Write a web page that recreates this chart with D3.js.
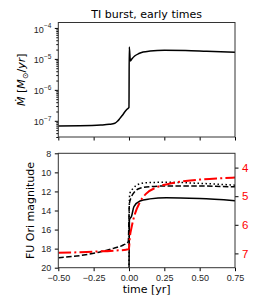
<!DOCTYPE html>
<html>
<head>
<meta charset="utf-8">
<script src="https://cdn.jsdelivr.net/npm/d3@7"></script>
<style>
body { margin: 0; background: #fff; }
svg { display: block; font-family: "DejaVu Sans", sans-serif; }
</style>
</head>
<body>
<div id="canvas"><svg width="258" height="307"></svg></div>
<script>
// accretion rate (Msun/yr) vs time
var rateTime = [-0.5, -0.35, -0.2, -0.14, -0.1, -0.08, -0.064, -0.045, -0.029, -0.012, 0.0, 0.002, 0.01, 0.02, 0.04, 0.07, 0.1, 0.15, 0.25, 0.4, 0.55, 0.75];
var rateVals = [6.8e-8, 6.9e-8, 7.3e-8, 7.7e-8, 8.3e-8, 9.8e-8, 1.2e-7, 1.54e-7, 1.97e-7, 2.4e-7, 2.73e-7, 2.42e-5, 8.6e-6, 9.9e-6, 1.24e-5, 1.49e-5, 1.67e-5, 1.8e-5, 1.9e-5, 1.87e-5, 1.76e-5, 1.63e-5];

// magnitudes, left axis
var dashTime = [-0.5, -0.32, -0.2, -0.11, -0.04, -0.005, 0.003, 0.018, 0.04, 0.078, 0.148, 0.265, 0.5, 0.73, 0.75];
var dashMag  = [18.95, 18.67, 18.33, 17.97, 17.62, 17.28, 13.25, 12.55, 12.03, 11.67, 11.5, 11.43, 11.43, 11.5, 11.5];
var dotTime = [0.0, 0.003, 0.006, 0.03, 0.066, 0.125, 0.27, 0.5, 0.75];
var dotMag  = [21, 12.9, 12.2, 11.67, 11.25, 11.08, 11.04, 11.15, 11.34];
var solidTime = [0.0, 0.003, 0.018, 0.035, 0.078, 0.148, 0.265, 0.5, 0.75];
var solidMag  = [21, 15.0, 14.6, 13.6, 13.0, 12.78, 12.65, 12.75, 12.97];

// right axis (red)
var redTime = [-0.5, -0.3, -0.1, -0.02, 0.0, 0.005, 0.018, 0.04, 0.078, 0.12, 0.2, 0.3, 0.4, 0.5, 0.62, 0.75];
var redVals = [6.98, 6.95, 6.9, 6.87, 6.85, 6.5, 6.1, 5.65, 5.2, 4.92, 4.68, 4.55, 4.47, 4.42, 4.38, 4.35];

var xTicks = [-0.5, -0.25, 0, 0.25, 0.5, 0.75];
var rateTicks = [1e-7, 1e-6, 1e-5, 1e-4];
var magTicks = [8, 10, 12, 14, 16, 18, 20];
var redTicks = [4, 5, 6, 7];

var svg = d3.select("#canvas svg");
var left = 58.3, right = 235;
var top1 = 22.5, bot1 = 137, top2 = 153.3, bot2 = 267.7;

var x = d3.scaleLinear().domain([-0.5, 0.75]).range([left, right]);
var yRate = d3.scaleLog().domain([3e-8, 1.5e-4]).range([bot1, top1]);
var yMag = d3.scaleLinear().domain([8, 20]).range([top2, bot2]);
var yRed = d3.scaleLinear().domain([3.5, 7.5]).range([top2, bot2]);

var defs = svg.append("defs");
defs.append("clipPath").attr("id", "clip1").append("rect")
    .attr("x", left).attr("y", top1).attr("width", right - left).attr("height", bot1 - top1);
defs.append("clipPath").attr("id", "clip2").append("rect")
    .attr("x", left).attr("y", top2).attr("width", right - left).attr("height", bot2 - top2);

function styleAxis(g) {
    g.select(".domain").remove();
    g.selectAll(".tick line").attr("stroke", "#000").attr("stroke-width", 1);
    g.selectAll(".tick text").attr("fill", "#262626").attr("font-size", 9);
}

// minor log ticks
var minor = [];
for (var k = -8; k <= -4; k++) {
    for (var m = 2; m <= 9; m++) {
        var v = m * Math.pow(10, k);
        if (v >= 3e-8 && v <= 1.5e-4) minor.push(v);
    }
}

// ---- top panel ----
svg.append("g")
    .attr("transform", "translate(" + left + ",0)")
    .call(d3.axisLeft(yRate).tickValues(minor).tickSize(2).tickFormat(""))
    .call(styleAxis);

var yAx = svg.append("g")
    .attr("transform", "translate(" + left + ",0)")
    .call(d3.axisLeft(yRate).tickValues(rateTicks).tickSize(3.5).tickPadding(3.5).tickFormat(""))
    .call(styleAxis);
yAx.selectAll(".tick text").each(function (d) {
    var t = d3.select(this).attr("font-size", 9).attr("dy", "0.45em");
    t.append("tspan").text("10");
    t.append("tspan").attr("font-size", 6.5).attr("dy", "-0.75em").text("\u2212" + Math.round(-Math.log10(d)));
});

svg.append("g")
    .attr("transform", "translate(0," + bot1 + ")")
    .call(d3.axisBottom(x).tickValues(xTicks).tickSize(3.5).tickFormat(""))
    .call(styleAxis);

svg.append("path")
    .datum(rateTime.map(function (t, i) { return [t, rateVals[i]]; }))
    .attr("clip-path", "url(#clip1)")
    .attr("fill", "none")
    .attr("stroke", "#000")
    .attr("stroke-width", 1.5)
    .attr("d", d3.line()
        .x(function (d) { return x(d[0]); })
        .y(function (d) { return yRate(d[1]); })
        .curve(d3.curveMonotoneX));

svg.append("rect")
    .attr("x", left).attr("y", top1).attr("width", right - left).attr("height", bot1 - top1)
    .attr("fill", "none").attr("stroke", "#333").attr("stroke-width", 1);

svg.append("text")
    .attr("x", (left + right) / 2).attr("y", 17.5)
    .attr("text-anchor", "middle").attr("font-size", 11).attr("fill", "#000")
    .text("TI burst, early times");

var yl = svg.append("text")
    .attr("transform", "translate(25," + (top1 + bot1) / 2 + ") rotate(-90)")
    .attr("text-anchor", "middle").attr("font-size", 11).attr("fill", "#000");
yl.append("tspan").attr("font-style", "italic").text("\u1E40");
yl.append("tspan").text(" [");
yl.append("tspan").attr("font-style", "italic").text("M");
yl.append("tspan").attr("font-size", 8).attr("dy", 2.5).text("\u2299");
yl.append("tspan").attr("dy", -2.5).text("/");
yl.append("tspan").attr("font-style", "italic").text("yr");
yl.append("tspan").text("]");

// ---- bottom panel ----
svg.append("g")
    .attr("transform", "translate(" + left + ",0)")
    .call(d3.axisLeft(yMag).tickValues(magTicks).tickSize(3.5).tickPadding(3.5))
    .call(styleAxis);

var rAx = svg.append("g")
    .attr("transform", "translate(" + right + ",0)")
    .call(d3.axisRight(yRed).tickValues(redTicks).tickSize(3.5).tickPadding(3.5).tickFormat(d3.format("d")))
    .call(styleAxis);
rAx.selectAll(".tick text").attr("fill", "#ff0000").attr("font-size", 11.5);

svg.append("g")
    .attr("transform", "translate(0," + bot2 + ")")
    .call(d3.axisBottom(x).tickValues(xTicks).tickSize(3.5).tickPadding(3.5).tickFormat(d3.format(".2f")))
    .call(styleAxis);

var magLine = d3.line()
    .x(function (d) { return x(d[0]); })
    .y(function (d) { return yMag(d[1]); })
    .curve(d3.curveMonotoneX);
var redLine = d3.line()
    .x(function (d) { return x(d[0]); })
    .y(function (d) { return yRed(d[1]); })
    .curve(d3.curveMonotoneX);

function zip(a, b) { return a.map(function (t, i) { return [t, b[i]]; }); }

var series = [
    {pts: zip(solidTime, solidMag), dash: null},
    {pts: zip(dashTime, dashMag), dash: "5.5,2.4"},
    {pts: zip(dotTime, dotMag), dash: "1.5,2.5"}
];
svg.append("g").attr("clip-path", "url(#clip2)")
    .selectAll(".mag")
    .data(series)
    .enter()
    .append("path")
    .attr("class", "mag")
    .attr("fill", "none")
    .attr("stroke", "#000")
    .attr("stroke-width", 1.5)
    .attr("stroke-dasharray", function (d) { return d.dash; })
    .attr("d", function (d) { return magLine(d.pts); });

svg.append("path")
    .datum(zip(redTime, redVals))
    .attr("clip-path", "url(#clip2)")
    .attr("fill", "none")
    .attr("stroke", "#ff0000")
    .attr("stroke-width", 2)
    .attr("stroke-dasharray", "12.8,3.2,2,3.2")
    .attr("d", redLine);

svg.append("rect")
    .attr("x", left).attr("y", top2).attr("width", right - left).attr("height", bot2 - top2)
    .attr("fill", "none").attr("stroke", "#333").attr("stroke-width", 1);

svg.append("text")
    .attr("transform", "translate(33.5," + (top2 + bot2) / 2 + ") rotate(-90)")
    .attr("text-anchor", "middle").attr("font-size", 11).attr("fill", "#000")
    .text("FU Ori magnitude");

svg.append("text")
    .attr("x", (left + right) / 2).attr("y", 293)
    .attr("text-anchor", "middle").attr("font-size", 11).attr("fill", "#000")
    .text("time [yr]");
</script>
</body>
</html>
